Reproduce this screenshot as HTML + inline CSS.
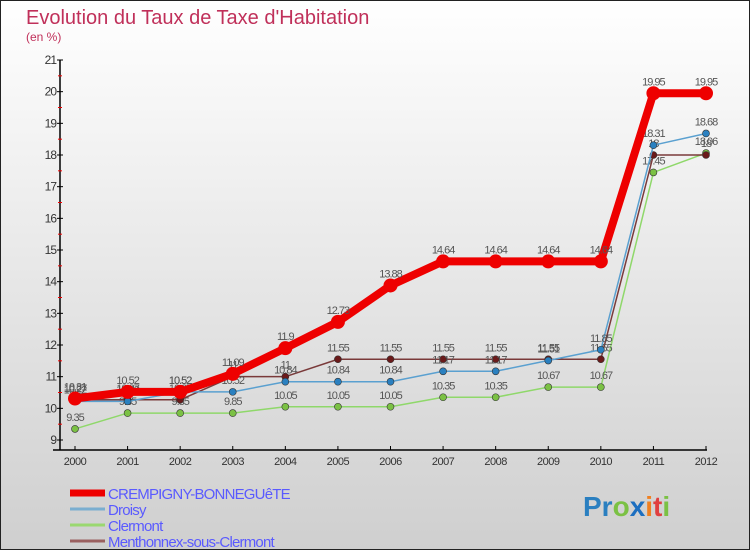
<!DOCTYPE html>
<html><head><meta charset="utf-8"><style>
body{margin:0;width:750px;height:550px;overflow:hidden;font-family:"Liberation Sans",sans-serif}
svg text{font-family:"Liberation Sans",sans-serif}
</style></head><body>
<svg id="chart" width="750" height="550" xmlns="http://www.w3.org/2000/svg">
<defs><linearGradient id="bg" x1="0" y1="0" x2="0" y2="1"><stop offset="0" stop-color="#ffffff"/><stop offset="1" stop-color="#cfcfcf"/></linearGradient></defs>
<rect x="0.5" y="0.5" width="749" height="549" fill="url(#bg)" stroke="#222"/>
<text x="26" y="24" font-size="20" fill="#c0305a">Evolution du Taux de Taxe d'Habitation</text>
<text x="26" y="41" font-size="12" fill="#c0305a">(en %)</text>
<g id="axes"></g><g id="series"></g>
<g id="legend"></g>
<text x="583" y="516" font-size="28" font-weight="bold"><tspan fill="#2a7fc0">Pr</tspan><tspan fill="#7bc144">o</tspan><tspan fill="#1d6fc0">x</tspan><tspan fill="#f08020">i</tspan><tspan fill="#e04040">t</tspan><tspan fill="#7bc144">i</tspan></text>
</svg>
<script>
const years=[2000,2001,2002,2003,2004,2005,2006,2007,2008,2009,2010,2011,2012];
const yTicks=[9,10,11,12,13,14,15,16,17,18,19,20,21];
const crempigny=[10.31,10.52,10.52,11.09,11.9,12.73,13.88,14.64,14.64,14.64,14.64,19.95,19.95];
const droisy=[10.22,10.22,10.52,10.52,10.84,10.84,10.84,11.17,11.17,11.51,11.85,18.31,18.68];
const clermont=[9.35,9.85,9.85,9.85,10.05,10.05,10.05,10.35,10.35,10.67,10.67,17.45,18.06];
const menthonnex=[10.27,10.27,10.27,11,11,11.55,11.55,11.55,11.55,11.55,11.55,18,18];
const seriesNames=["CREMPIGNY-BONNEGUêTE","Droisy","Clermont","Menthonnex-sous-Clermont"];
const NS="http://www.w3.org/2000/svg";
const X=i=>75+i*(706-75)/12;
const Y=v=>440-(v-9)*(380/12);
function mk(t,a,p){const e=document.createElementNS(NS,t);for(const k in a)e.setAttribute(k,a[k]);p.appendChild(e);return e;}
const ax=document.getElementById('axes');
let l=mk('line',{x1:60,y1:60,x2:60,y2:450,stroke:'#000','stroke-width':1.5},ax);


l=mk('line',{x1:53,y1:450,x2:707,y2:450,stroke:'#000','stroke-width':1.5},ax);


yTicks.forEach((v,i)=>{
 mk('line',{x1:57,x2:63,y1:Y(v),y2:Y(v),stroke:'#000'},ax);
 if(i<yTicks.length-1)mk('line',{x1:58,x2:62,y1:Y(v+0.5),y2:Y(v+0.5),stroke:'#e00'},ax);
 const t=mk('text',{x:56,y:Y(v)+4,'font-size':12,'text-anchor':'end',fill:'#333','letter-spacing':'-1'},ax);
 t.textContent=v;
 
 
});
years.forEach((y,i)=>{
 mk('line',{x1:X(i),x2:X(i),y1:446,y2:450,stroke:'#000'},ax);
 const t=mk('text',{x:X(i),y:465,'font-size':11,'text-anchor':'middle',fill:'#333','letter-spacing':'-0.5'},ax);
 t.textContent=y;
 
 
});
const sg=document.getElementById('series');
const defs=[[clermont,'#8fd86a','#7bc144',1.5,3.5,'clermont'],[menthonnex,'#7a3a3a','#6a1a1a',1.5,3.5,'menthonnex'],[droisy,'#5aa0d0','#2a80c0',1.5,3.5,'droisy'],[crempigny,'#ee0000','#ee0000',8,7,'crempigny']];
defs.forEach(([d,lc,pc,w,r,n])=>{
 const pl=mk('polyline',{points:d.map((v,i)=>X(i)+','+Y(v)).join(' '),fill:'none',stroke:lc,'stroke-width':w,'stroke-linejoin':'round'},sg);
 
 
 d.forEach((v,i)=>{
  const c=mk('circle',{cx:X(i),cy:Y(v),r:r,fill:pc,stroke:'#333','stroke-width':w>2?0:0.6},sg);
  
  
  const t=mk('text',{x:X(i),y:Y(v)-8,'font-size':11,'text-anchor':'middle',fill:'#555','letter-spacing':'-1'},sg);
  t.textContent=v;
  
  
 });
});
const lg=document.getElementById('legend');
const lc=['#ee0000','#7aaed0','#9ad870','#9a6060'],lw=[7,3,3,3];
seriesNames.forEach((s,i)=>{
 const y=493+i*16;
 const ln=mk('line',{x1:70,x2:105,y1:y,y2:y,stroke:lc[i],'stroke-width':lw[i]},lg);
 
 
 const t=mk('text',{x:108,y:y+6,'font-size':15,fill:'#5a5aff','letter-spacing':'-0.8'},lg);
 t.textContent=s;
 
 
});
</script>
</body></html>
